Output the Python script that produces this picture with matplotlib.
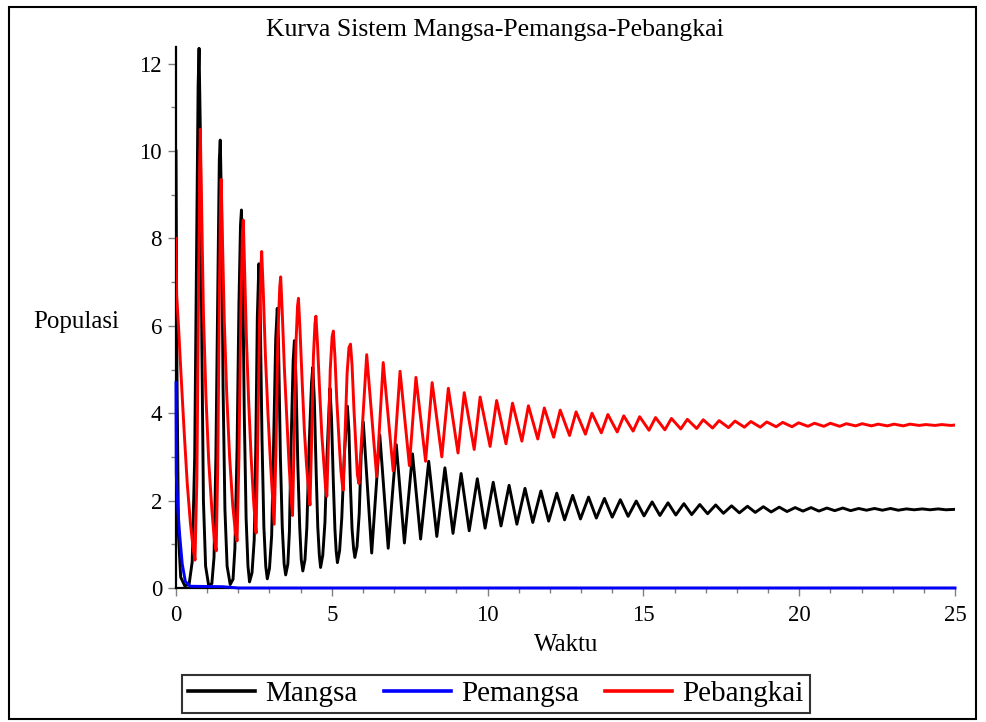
import numpy as np
import matplotlib
matplotlib.use("Agg")
import matplotlib.pyplot as plt
from matplotlib.lines import Line2D
from matplotlib.patches import Rectangle

plt.rcParams['font.family'] = ['Liberation Serif', 'DejaVu Serif']

# --- data ----------------------------------------------------------------
# Mangsa (prey): detailed points for the first spiky cycles ...
mangsa_t_early = [0.00, 0.03, 0.08, 0.15, 0.28, 0.42, 0.52,
                  0.60, 0.66, 0.71, 0.74, 0.78, 0.83, 0.88, 0.95, 1.05, 1.15, 1.22,
                  1.28, 1.34, 1.39, 1.42, 1.46, 1.51, 1.57, 1.64, 1.74, 1.83, 1.89,
                  1.96, 2.02, 2.07, 2.10, 2.14, 2.19, 2.25, 2.31, 2.36, 2.44, 2.51,
                  2.56, 2.61, 2.66, 2.70, 2.76, 2.82, 2.88, 2.93, 3.00, 3.07,
                  3.13, 3.20, 3.25, 3.29, 3.35, 3.41, 3.47, 3.52, 3.59, 3.64,
                  3.69, 3.76, 3.80, 3.85, 3.91, 3.97, 4.02, 4.07, 4.14, 4.20,
                  4.27, 4.35, 4.39, 4.44, 4.50, 4.55, 4.60, 4.64, 4.71, 4.78,
                  4.85, 4.94, 4.99, 5.05, 5.10, 5.14, 5.18, 5.25, 5.32,
                  5.40, 5.50, 5.55, 5.60, 5.65, 5.70, 5.74, 5.81, 5.88, 5.94]
mangsa_v_early = [10.0, 5.0, 1.2, 0.25, 0.05, 0.08, 0.6,
                  3.0, 7.5, 11.5, 12.35, 10.5, 5.5, 2.0, 0.5, 0.05, 0.1, 0.7,
                  3.0, 6.8, 9.8, 10.25, 8.8, 4.6, 1.8, 0.5, 0.08, 0.2, 0.9,
                  3.2, 6.5, 8.3, 8.65, 7.4, 4.0, 1.6, 0.5, 0.14, 0.35, 1.1,
                  3.2, 6.2, 7.42, 6.4, 3.4, 1.4, 0.5, 0.21, 0.45, 1.2,
                  3.2, 5.7, 6.4, 5.6, 3.0, 1.4, 0.55, 0.30, 0.55, 1.3,
                  3.2, 5.2, 5.66, 4.8, 2.8, 1.4, 0.65, 0.39, 0.65, 1.4,
                  3.2, 4.7, 5.05, 4.3, 2.6, 1.4, 0.75, 0.47, 0.75, 1.5,
                  3.1, 4.57, 3.9, 2.4, 1.35, 0.85, 0.58, 0.85, 1.6,
                  3.0, 4.16, 3.6, 2.3, 1.35, 0.9, 0.70, 0.95, 1.7, 3.0]
# ... then alternating peaks / troughs
mangsa_t_late = [6.01, 6.28, 6.54, 6.81, 7.07, 7.33, 7.59, 7.85, 8.11, 8.37,
                 8.63, 8.89, 9.15, 9.41, 9.67, 9.92, 10.18, 10.43, 10.69, 10.94,
                 11.20, 11.45, 11.71, 11.96, 12.22, 12.47, 12.73, 12.98, 13.24, 13.49,
                 13.75, 14.00, 14.26, 14.51, 14.77, 15.02, 15.28, 15.53, 15.79, 16.04,
                 16.30, 16.55, 16.81, 17.06, 17.32, 17.57, 17.83, 18.08, 18.34, 18.59,
                 18.85, 19.10, 19.36, 19.61, 19.87, 20.12, 20.38, 20.63, 20.89, 21.14,
                 21.40, 21.65, 21.91, 22.16, 22.42, 22.67, 22.93, 23.18, 23.44, 23.69,
                 23.95, 24.20, 24.46, 24.71, 25.00]
mangsa_v_late = [3.80, 0.80, 3.50, 0.91, 3.28, 1.03, 3.07, 1.12, 2.90, 1.18,
                 2.75, 1.25, 2.62, 1.31, 2.50, 1.37, 2.42, 1.42, 2.35, 1.46,
                 2.28, 1.50, 2.22, 1.53, 2.17, 1.56, 2.12, 1.58, 2.08, 1.60,
                 2.05, 1.62, 2.02, 1.64, 1.99, 1.65, 1.97, 1.66, 1.95, 1.67,
                 1.93, 1.68, 1.91, 1.70, 1.90, 1.71, 1.88, 1.72, 1.87, 1.73,
                 1.86, 1.74, 1.85, 1.75, 1.84, 1.76, 1.84, 1.76, 1.83, 1.77,
                 1.83, 1.77, 1.82, 1.78, 1.82, 1.78, 1.82, 1.78, 1.81, 1.79,
                 1.81, 1.79, 1.81, 1.79, 1.80]

# Pemangsa (predator): collapses right at the start
pemangsa_t = [0.00, 0.01, 0.06, 0.12, 0.20, 0.30, 0.45, 1.50, 2.00, 25.00]
pemangsa_v = [4.70, 2.60, 1.80, 1.20, 0.55, 0.15, 0.04, 0.03, 0.00, 0.00]

# Pebangkai (scavenger)
pebangkai_t_early = [0.00, 0.02, 0.08, 0.16, 0.26, 0.36, 0.46, 0.55, 0.61,
                     0.67, 0.72, 0.76, 0.78, 0.82, 0.88, 0.96, 1.05, 1.15, 1.23, 1.29,
                     1.34, 1.39, 1.43, 1.45, 1.49, 1.55, 1.63, 1.72, 1.82, 1.91, 1.96,
                     2.02, 2.08, 2.13, 2.16, 2.20, 2.26, 2.33, 2.41, 2.49, 2.54, 2.57,
                     2.62, 2.68, 2.73, 2.75, 2.80, 2.87, 2.95, 3.03, 3.10, 3.15,
                     3.21, 3.27, 3.33, 3.36, 3.41, 3.48, 3.56, 3.63, 3.69, 3.74,
                     3.79, 3.85, 3.90, 3.93, 3.98, 4.05, 4.12, 4.19, 4.26, 4.30,
                     4.35, 4.41, 4.46, 4.49, 4.54, 4.61, 4.68, 4.75, 4.80, 4.84,
                     4.89, 4.95, 5.01, 5.05, 5.10, 5.16, 5.23, 5.29, 5.34, 5.37,
                     5.42, 5.49, 5.55, 5.60, 5.65, 5.71, 5.77, 5.82, 5.87]
pebangkai_v_early = [8.00, 6.70, 6.00, 4.90, 3.60, 2.40, 1.50, 0.90, 0.64,
                     2.50, 6.50, 9.60, 10.50, 8.80, 6.30, 4.40, 2.90, 1.80, 1.10, 0.85,
                     2.80, 6.60, 8.90, 9.35, 8.00, 6.10, 4.40, 3.00, 1.90, 1.25, 1.08,
                     3.00, 6.30, 8.10, 8.42, 7.30, 5.70, 4.30, 3.00, 2.00, 1.50, 1.26,
                     3.20, 6.10, 7.40, 7.70, 6.80, 5.30, 4.00, 2.90, 2.05, 1.46,
                     3.20, 5.80, 6.90, 7.12, 6.30, 5.00, 3.80, 2.80, 2.10, 1.66,
                     3.30, 5.60, 6.45, 6.63, 5.90, 4.70, 3.60, 2.80, 2.20, 1.90,
                     3.30, 5.30, 6.05, 6.22, 5.60, 4.50, 3.50, 2.80, 2.30, 2.10,
                     3.30, 5.00, 5.75, 5.88, 5.30, 4.30, 3.40, 2.70, 2.35, 2.24,
                     3.40, 4.90, 5.50, 5.58, 5.10, 4.10, 3.30, 2.60, 2.39]
pebangkai_t_late = [6.12, 6.44, 6.65, 6.97, 7.19, 7.49, 7.70, 8.01, 8.22, 8.53,
                    8.74, 9.05, 9.25, 9.57, 9.76, 10.08, 10.29, 10.59, 10.80, 11.10,
                    11.31, 11.61, 11.82, 12.12, 12.33, 12.63, 12.84, 13.14, 13.35, 13.65,
                    13.86, 14.16, 14.37, 14.67, 14.88, 15.18, 15.39, 15.69, 15.90, 16.20,
                    16.41, 16.71, 16.92, 17.22, 17.43, 17.73, 17.94, 18.24, 18.45, 18.75,
                    18.96, 19.26, 19.47, 19.77, 19.98, 20.28, 20.49, 20.79, 21.00, 21.30,
                    21.51, 21.81, 22.02, 22.32, 22.53, 22.83, 23.04, 23.34, 23.55, 23.85,
                    24.06, 24.36, 24.57, 24.87, 25.00]
pebangkai_v_late = [5.34, 2.55, 5.16, 2.68, 4.96, 2.80, 4.82, 2.90, 4.70, 3.00,
                    4.57, 3.09, 4.47, 3.17, 4.37, 3.24, 4.29, 3.30, 4.23, 3.36,
                    4.17, 3.41, 4.12, 3.45, 4.07, 3.49, 4.03, 3.52, 4.00, 3.55,
                    3.97, 3.57, 3.94, 3.59, 3.92, 3.61, 3.90, 3.62, 3.88, 3.64,
                    3.86, 3.65, 3.85, 3.66, 3.83, 3.67, 3.82, 3.68, 3.81, 3.68,
                    3.80, 3.69, 3.79, 3.69, 3.78, 3.70, 3.77, 3.70, 3.77, 3.70,
                    3.76, 3.71, 3.76, 3.71, 3.75, 3.71, 3.75, 3.71, 3.75, 3.72,
                    3.74, 3.72, 3.74, 3.72, 3.73]

labels = ["Mangsa", "Pemangsa", "Pebangkai"]
colors = ["#000000", "#0000ff", "#ff0000"]

# --- figure ---------------------------------------------------------------
W, H = 986, 722
fig = plt.figure(figsize=(W / 100, H / 100), dpi=100)
ax = fig.add_axes([176 / W, 1 - 588 / H, (955 - 176) / W, (588 - 47) / H])

mangsa_t = mangsa_t_early + mangsa_t_late
mangsa_v = mangsa_v_early + mangsa_v_late
pebangkai_t = pebangkai_t_early + pebangkai_t_late
pebangkai_v = pebangkai_v_early + pebangkai_v_late

lw = 2.1
ax.plot(mangsa_t, mangsa_v, color=colors[0], lw=lw, zorder=3)
ax.plot(pemangsa_t, pemangsa_v, color=colors[1], lw=lw, zorder=4, clip_on=False)
ax.plot(pebangkai_t, pebangkai_v, color=colors[2], lw=lw, zorder=5)

ax.set_xlim(0, 25)
ax.set_ylim(0, 12.38)
for s in ("top", "right"):
    ax.spines[s].set_visible(False)
for s in ("left", "bottom"):
    ax.spines[s].set_linewidth(1.6)
    ax.spines[s].set_zorder(2)

ax.set_xticks(np.arange(0, 26, 5))
ax.set_xticks(np.arange(0, 26, 1), minor=True)
ax.set_yticks(np.arange(0, 13, 2))
ax.set_yticks(np.arange(0, 13, 1), minor=True)
ax.tick_params(which="both", direction="out", color="#808080", width=1.0)
ax.tick_params(which="major", length=6, labelsize=16.5, pad=4)
ax.tick_params(which="minor", length=3.5)
ax.tick_params(axis="x", which="major", pad=6)

fig.text(495 / W, 1 - 30 / H, "Kurva Sistem Mangsa-Pemangsa-Pebangkai",
         ha="center", va="center", fontsize=18.5)
fig.text(76 / W, 1 - 322 / H, "Populasi", ha="center", va="center", fontsize=18)
fig.text(566 / W, 1 - 645 / H, "Waktu", ha="center", va="center", fontsize=18)

handles = [Line2D([], [], color=c, lw=2.6) for c in colors]
leg = fig.legend(handles, labels, loc="center", ncol=3,
                 bbox_to_anchor=(496 / W, 1 - 694 / H),
                 fontsize=21, frameon=True, fancybox=False, edgecolor="black",
                 handlelength=2.3, handletextpad=0.35, columnspacing=0.9,
                 borderpad=0.2, borderaxespad=0)
leg.get_frame().set_linewidth(1.5)

# outer frame
fig.patches.append(Rectangle((9 / W, 1 - 719 / H), (976 - 9) / W, (719 - 7) / H,
                             transform=fig.transFigure, fill=False,
                             edgecolor="black", lw=1.5))

fig.savefig("out.png", dpi=100)
